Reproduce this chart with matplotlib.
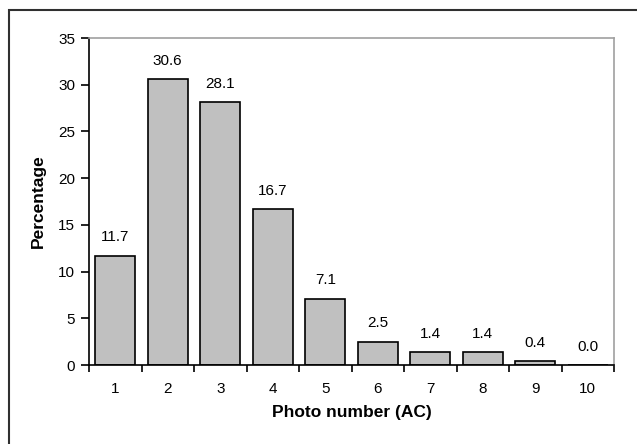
import numpy as np
import matplotlib.pyplot as plt
from matplotlib.patches import Rectangle

plt.rcParams['font.family'] = ['Liberation Sans', 'DejaVu Sans']

photo_numbers = [1, 2, 3, 4, 5, 6, 7, 8, 9, 10]
percentages = [11.7, 30.6, 28.1, 16.7, 7.1, 2.5, 1.4, 1.4, 0.4, 0.0]

W, H = 637, 444
fig = plt.figure(figsize=(W / 100, H / 100), dpi=100)

# outer frame (cut off on right and bottom in the original)
fig.patches.append(Rectangle((9 / W, -0.1), 1.2, 1 - 10 / H + 0.1,
                             transform=fig.transFigure, fill=False,
                             edgecolor='#303030', linewidth=1.5))

left, right, top, bottom = 89, 614, 38, 365
ax = fig.add_axes([left / W, 1 - bottom / H, (right - left) / W, (bottom - top) / H])

x = np.arange(len(photo_numbers))
bars = ax.bar(x, percentages, width=0.76, color='#c0c0c0', edgecolor='black', linewidth=1.2)

for xi, v in zip(x, percentages):
    ax.text(xi, v + 1.2, '%.1f' % v, ha='center', va='bottom', fontsize=11)

ax.set_xlim(-0.5, len(photo_numbers) - 0.5)
ax.set_ylim(0, 35)
ax.set_yticks(np.arange(0, 36, 5))

# x ticks at category edges, labels at centres
ax.set_xticks(np.arange(-0.5, len(photo_numbers), 1.0))
ax.set_xticklabels([])
ax.set_xticks(x, minor=True)
ax.set_xticklabels([str(p) for p in photo_numbers], minor=True, fontsize=11)
ax.tick_params(axis='x', which='minor', length=0, pad=12)
ax.tick_params(axis='x', which='major', length=5, width=1.2, direction='out')
ax.tick_params(axis='y', length=6, width=1.2, direction='out', pad=4, labelsize=11)

ax.spines['left'].set_linewidth(1.2)
ax.spines['bottom'].set_linewidth(1.2)
ax.spines['top'].set_color('#a0a0a0')
ax.spines['right'].set_color('#a0a0a0')
ax.spines['top'].set_linewidth(1.2)
ax.spines['right'].set_linewidth(1.2)

ax.set_xlabel('Photo number (AC)', fontsize=12.5, fontweight='bold', labelpad=7)
ax.set_ylabel('Percentage', fontsize=12.5, fontweight='bold', labelpad=9)

fig.savefig('out.png', dpi=100)
